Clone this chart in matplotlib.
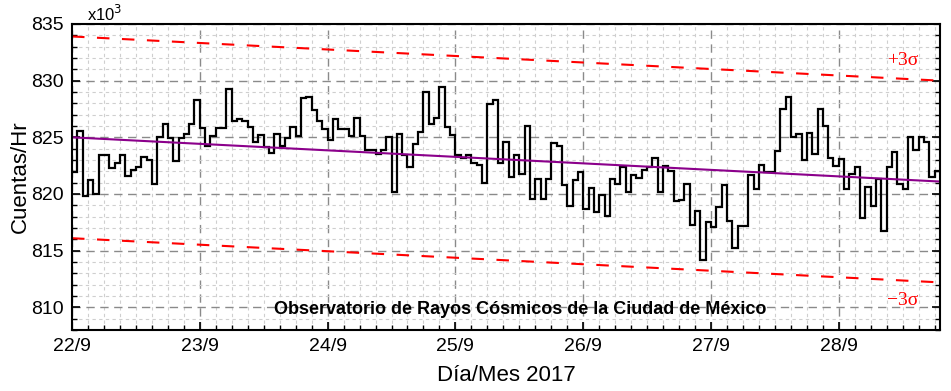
import matplotlib
matplotlib.use("Agg")
import matplotlib.pyplot as plt
from matplotlib.ticker import MultipleLocator, FixedLocator
import numpy as np

# Hourly counts (x10^3 counts/hr), starting 22/9 00:00
counts = [
    821.9, 825.6, 819.85, 821.2, 820.0, 823.4, 823.4, 822.3, 822.7, 823.4,
    821.6, 822.1, 822.4, 823.3, 823.0, 820.85, 825.0, 826.15, 824.9, 822.9,
    824.9, 825.3, 826.15, 828.3, 825.85, 824.2, 825.1, 825.8, 825.85, 829.25,
    826.4, 826.6, 826.4, 825.9, 824.55, 825.2, 824.15, 823.6, 825.3, 824.25,
    824.9, 825.9, 825.1, 828.5, 828.6, 827.4, 826.4, 825.7, 824.8, 826.6,
    825.7, 825.7, 825.1, 826.7, 825.1, 823.9, 823.9, 823.5, 823.85, 825.0,
    820.15, 825.3, 823.45, 822.4, 824.45, 825.5, 828.97, 826.15, 826.7, 829.4,
    825.9, 825.2, 823.45, 823.15, 823.45, 822.7, 822.55, 820.97, 827.9, 828.26,
    822.7, 824.55, 821.5, 823.4, 821.8, 826.0, 819.6, 821.3, 819.6, 821.3,
    824.5, 824.2, 820.8, 818.95, 821.26, 821.9, 818.7, 820.55, 818.4, 819.9,
    818.1, 821.3, 820.9, 822.4, 820.2, 821.7, 821.4, 822.1, 822.4, 823.2,
    820.2, 822.5, 822.0, 819.4, 819.5, 820.85, 817.3, 818.5, 814.2, 817.5,
    817.1, 818.85, 820.8, 817.6, 815.25, 817.2, 817.2, 821.7, 820.4, 822.55,
    821.9, 821.9, 823.8, 827.5, 828.55, 825.0, 825.3, 823.0, 825.4, 823.5,
    827.5, 826.0, 823.15, 822.5, 823.1, 820.4, 821.8, 822.4, 817.9, 820.6,
    818.9, 821.3, 816.7, 822.4, 823.7, 820.9, 820.4, 825.0, 823.85, 825.0,
    824.6, 821.5, 822.0,
]

# Trend line and +/-3 sigma band end points (start, end)
trend = [825.0, 821.1]
upper = [833.9, 830.0]
lower = [816.1, 812.2]

day_labels = ["22/9", "23/9", "24/9", "25/9", "26/9", "27/9", "28/9"]
y_ticks = [810, 815, 820, 825, 830, 835]

plt.rcParams["font.family"] = ["Liberation Sans", "DejaVu Sans"]

fig = plt.figure(figsize=(9.51, 3.91), dpi=100)
ax = fig.add_axes([72 / 951, 1 - 330 / 391, (940 - 72) / 951, (330 - 24) / 391])

n = len(counts)
edges = np.arange(n + 1) / 24.0
x_end = edges[-1]

ax.set_xlim(0, x_end)
ax.set_ylim(808, 835)

# grid
ax.xaxis.set_major_locator(FixedLocator(range(len(day_labels))))
ax.xaxis.set_minor_locator(MultipleLocator(1 / 8))
ax.yaxis.set_major_locator(FixedLocator(y_ticks))
ax.yaxis.set_minor_locator(MultipleLocator(1))
ax.grid(which="minor", color="#cfcfcf", linestyle=(0, (3, 3)), linewidth=0.8)
ax.grid(which="major", color="#8a8a8a", linestyle=(0, (6, 4)), linewidth=1.0)
ax.set_axisbelow(True)

ax.plot([0, x_end], upper, color="red", linestyle=(0, (6, 6)), linewidth=1.5)
ax.plot([0, x_end], lower, color="red", linestyle=(0, (6, 6)), linewidth=1.5)
ax.stairs(counts, edges, color="black", linewidth=1.6, baseline=None)
ax.plot([0, x_end], trend, color="#8b008b", linewidth=1.5)

ax.set_xticks(range(len(day_labels)))
ax.set_xticklabels(day_labels)
ax.set_yticklabels([str(v) for v in y_ticks])

ax.tick_params(which="both", direction="in", top=False, right=True, labelsize=14)
ax.tick_params(which="major", length=6, width=1.2)
ax.tick_params(which="minor", length=3.5, width=1.0)
ax.tick_params(axis="x", pad=6)
ax.tick_params(axis="y", pad=6)
for s in ax.spines.values():
    s.set_linewidth(1.5)

ax.set_ylabel("Cuentas/Hr", fontsize=16)
ax.set_xlabel("Día/Mes 2017", fontsize=16)
ax.yaxis.set_label_coords(-0.047, 0.5)
ax.xaxis.set_label_coords(0.5, -0.115)

fig.text(87 / 951, 1 - 21 / 391, "x10$^3$", fontsize=12, ha="left", va="baseline")

ax.text(0.516, 0.068, "Observatorio de Rayos Cósmicos de la Ciudad de México",
        transform=ax.transAxes, ha="center", va="center", fontsize=13,
        fontweight="bold", color="black")

ax.text(0.975, 0.882, "+3σ", transform=ax.transAxes, ha="right", va="center",
        fontsize=14, color="red", family=["Liberation Serif", "DejaVu Serif"])
ax.text(0.975, 0.098, "−3σ", transform=ax.transAxes, ha="right", va="center",
        fontsize=14, color="red", family=["Liberation Serif", "DejaVu Serif"])

fig.savefig("out.png", dpi=100)
